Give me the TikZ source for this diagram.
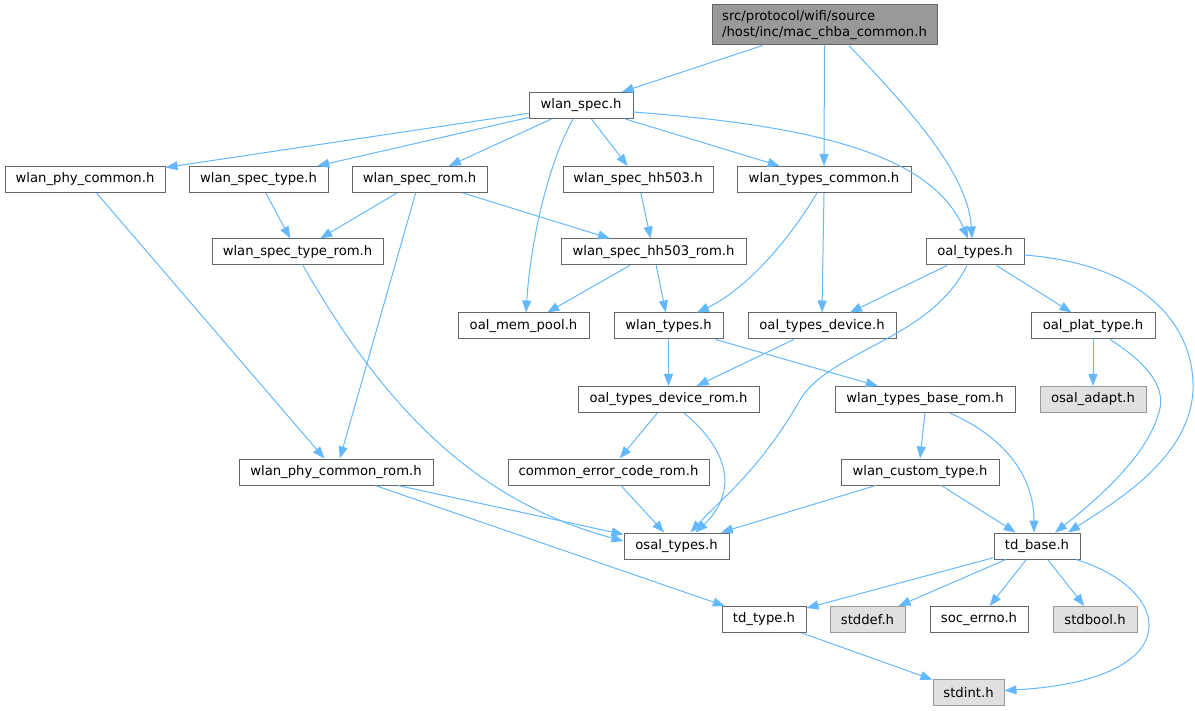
\documentclass[tikz,border=0pt]{standalone}
\usepackage{fontspec}
\setmainfont{DejaVu Sans}
\usetikzlibrary{arrows.meta}
\definecolor{edgeblue}{HTML}{63B8FF}
\definecolor{bordergray}{HTML}{666666}
\definecolor{lightborder}{HTML}{999999}
\definecolor{lightfill}{HTML}{E0E0E0}
\definecolor{rootfill}{HTML}{999999}
\begin{document}
\begin{tikzpicture}[x=1pt,y=-1pt,
  filebox/.style={draw=bordergray, fill=white, line width=1pt, inner sep=0pt,
    minimum height=26pt, font=\fontsize{13.2pt}{15.5pt}\selectfont},
  sysbox/.style={filebox, draw=lightborder, fill=lightfill},
  rootbox/.style={filebox, fill=rootfill, minimum height=40pt, align=left},
  dep/.style={draw=edgeblue, line width=1pt, -{Triangle[length=12pt,width=9pt]}}]
\useasboundingbox (0,0) rectangle (1195,711);

\node[rootbox, minimum width=225pt] (root) at (824.5,25) {src/protocol/wifi/source\\/host/inc/mac\_chba\_common.h};
\node[filebox, minimum width=104pt] (wspec) at (581,105.5) {wlan\_spec.h};
\node[filebox, minimum width=160pt] (wphy) at (85,179.5) {wlan\_phy\_common.h};
\node[filebox, minimum width=139pt] (wstype) at (258.5,179.5) {wlan\_spec\_type.h};
\node[filebox, minimum width=135pt] (wsrom) at (419.5,179.5) {wlan\_spec\_rom.h};
\node[filebox, minimum width=150pt] (whh) at (638,179.5) {wlan\_spec\_hh503.h};
\node[filebox, minimum width=174pt] (wtc) at (824,179.5) {wlan\_types\_common.h};
\node[filebox, minimum width=171pt] (wstrom) at (297.5,252) {wlan\_spec\_type\_rom.h};
\node[filebox, minimum width=185pt] (whhrom) at (653.5,252) {wlan\_spec\_hh503\_rom.h};
\node[filebox, minimum width=98pt] (oalt) at (975,252) {oal\_types.h};
\node[filebox, minimum width=131pt] (omp) at (523.5,326) {oal\_mem\_pool.h};
\node[filebox, minimum width=109pt] (wtypes) at (668.5,326) {wlan\_types.h};
\node[filebox, minimum width=148pt] (otd) at (822,326) {oal\_types\_device.h};
\node[filebox, minimum width=124pt] (opt) at (1093,326) {oal\_plat\_type.h};
\node[filebox, minimum width=181pt] (otdr) at (668.5,399.5) {oal\_types\_device\_rom.h};
\node[filebox, minimum width=180pt] (wtbr) at (925,399.5) {wlan\_types\_base\_rom.h};
\node[sysbox, minimum width=106pt] (osadapt) at (1093,399.5) {osal\_adapt.h};
\node[filebox, minimum width=194pt] (wphyrom) at (336,472) {wlan\_phy\_common\_rom.h};
\node[filebox, minimum width=201pt] (cerr) at (608.5,472) {common\_error\_code\_rom.h};
\node[filebox, minimum width=158pt] (wct) at (920,472) {wlan\_custom\_type.h};
\node[filebox, minimum width=105pt] (ost) at (676.5,546) {osal\_types.h};
\node[filebox, minimum width=86pt] (tdb) at (1037,546) {td\_base.h};
\node[filebox, minimum width=84pt] (tdt) at (764,619.5) {td\_type.h};
\node[sysbox, minimum width=75pt] (stddef) at (867.5,619.5) {stddef.h};
\node[filebox, minimum width=98pt] (soc) at (979,619.5) {soc\_errno.h};
\node[sysbox, minimum width=84pt] (stdbool) at (1095,619.5) {stdbool.h};
\node[sysbox, minimum width=71pt] (stdint) at (968.5,692.5) {stdint.h};

% straight dependencies
\draw[dep] (root) -- (wspec);
\draw[dep] (root.south) -- (wtc.north);
\draw[dep] (wspec) -- (wphy);
\draw[dep] (wspec) -- (wstype);
\draw[dep] (wspec) -- (wsrom);
\draw[dep] (wspec) -- (whh);
\draw[dep] (wspec) -- (wtc);
\draw[dep] (wphy) -- (wphyrom);
\draw[dep] (wstype) -- (wstrom);
\draw[dep] (wsrom) -- (wstrom);
\draw[dep] (wsrom) -- (wphyrom);
\draw[dep] (wsrom) -- (whhrom);
\draw[dep] (whh) -- (whhrom);
\draw[dep] (wtc.south) -- (otd.north);
\draw[dep] (whhrom) -- (omp);
\draw[dep] (whhrom) -- (wtypes);
\draw[dep] (oalt) -- (otd);
\draw[dep] (oalt) -- (opt);
\draw[dep] (wtypes.south) -- (otdr.north);
\draw[dep] (wtypes) -- (wtbr);
\draw[dep] (otd) -- (otdr);
\draw[dep] (opt.south) -- (osadapt.north);
\draw[dep] (otdr) -- (cerr);
\draw[dep] (wtbr.south) -- (wct.north);
\draw[dep] (wphyrom) -- (ost);
\draw[dep] (wphyrom) -- (tdt);
\draw[dep] (cerr) -- (ost);
\draw[dep] (wct) -- (ost);
\draw[dep] (wct) -- (tdb);
\draw[dep] (tdb) -- (tdt);
\draw[dep] (tdb) -- (stddef);
\draw[dep] (tdb) -- (soc);
\draw[dep] (tdb) -- (stdbool);
\draw[dep] (tdt) -- (stdint);

% curved dependencies
\draw[dep] ([xshift=24.5pt]root.south) .. controls (900,100) and (968,170) .. ([xshift=-3pt]oalt.north);
\draw[dep] ([yshift=-6.5pt]wspec.east) .. controls (800,125) and (930,150) .. ([xshift=-7pt]oalt.north);
\draw[dep] ([xshift=-8pt]wspec.south) .. controls (545,170) and (530,250) .. ([xshift=2.5pt]omp.north);
\draw[dep] ([xshift=-7pt]wtc.south) .. controls (788,242) and (745,290) .. ([xshift=28.5pt]wtypes.north);
\draw[dep] ([xshift=5.5pt]wstrom.south) .. controls (380,400) and (470,500) .. ([yshift=5pt]ost.west);
\draw[dep] ([xshift=-8pt]oalt.south) .. controls (930,340) and (830,350) .. (800,400)
  .. controls (760,470) and (720,500) .. ([xshift=14pt]ost.north);
\draw[dep] ([yshift=-3pt]oalt.east) .. controls (1150,265) and (1195,330) .. (1193,390)
  .. controls (1190,460) and (1110,505) .. ([xshift=31pt]tdb.north);
\draw[dep] ([xshift=17pt]opt.south) .. controls (1150,365) and (1168,390) .. (1158,415)
  .. controls (1145,460) and (1090,505) .. ([xshift=18pt]tdb.north);
\draw[dep] ([xshift=25pt]wtbr.south) .. controls (1010,440) and (1034,480) .. ([xshift=-3pt]tdb.north);
\draw[dep] ([xshift=15.5pt]otdr.south) .. controls (740,460) and (730,500) .. ([xshift=19pt]ost.north);
\draw[dep] ([xshift=39pt]tdb.south) .. controls (1175,590) and (1190,680) .. ([yshift=2pt]stdint.east);
\end{tikzpicture}
\end{document}
